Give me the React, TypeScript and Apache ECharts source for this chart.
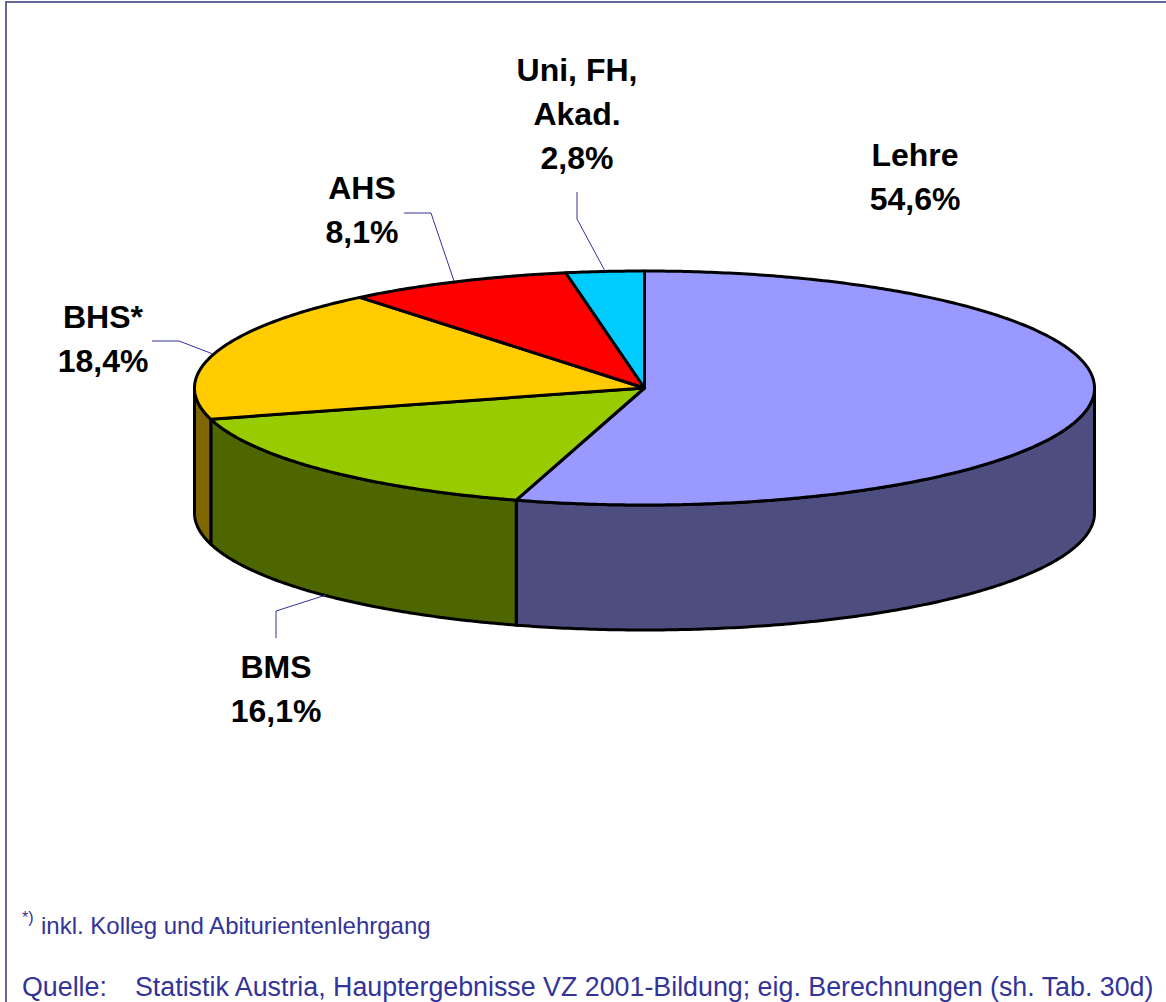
import React, { useEffect, useRef } from "react";
import * as echarts from "echarts";

const sliceNames = ["Lehre", "BMS", "BHS*", "AHS", "Uni, FH,\nAkad."];
const sliceValues = [54.6, 16.1, 18.4, 8.1, 2.8];
const topColors = ["#9999ff", "#99cc00", "#ffcc00", "#ff0000", "#00ccff"];
const wallColors = ["#4d4d80", "#4d6600", "#806600", "#800000", "#006680"];
const footnoteText = "inkl. Kolleg und Abiturientenlehrgang";
const sourceLabel = "Quelle:";
const sourceText = "Statistik Austria, Hauptergebnisse VZ 2001-Bildung; eig. Berechnungen (sh. Tab. 30d)";

const W = 1166;
const H = 1002;
const CX = 644.5;
const CY = 388;
const RX = 450;
const RY = 117;
const DEPTH = 125;
const INK = "#333399";
const FRAME = "#666699";

const total = sliceValues.reduce((a, b) => a + b, 0);
const starts: number[] = [];
sliceValues.reduce((acc, v, i) => {
  starts[i] = acc;
  return acc + v;
}, 0);
const toAngle = (cum: number) => (cum / total) * Math.PI * 2;

const ellipsePoint = (a: number, dy = 0): number[] => [
  CX + RX * Math.sin(a),
  CY - RY * Math.cos(a) + dy,
];

const arc = (a0: number, a1: number, dy = 0): number[][] => {
  const n = Math.max(2, Math.ceil(Math.abs(a1 - a0) / 0.01));
  const pts: number[][] = [];
  for (let i = 0; i <= n; i++) pts.push(ellipsePoint(a0 + ((a1 - a0) * i) / n, dy));
  return pts;
};

const renderTop = (params: any, api: any) => {
  const i = params.dataIndex;
  const a0 = toAngle(starts[i]);
  const a1 = a0 + toAngle(api.value(0));
  return {
    type: "polygon",
    shape: { points: [[CX, CY], ...arc(a0, a1)] },
    style: { fill: topColors[i], stroke: "#000", lineWidth: 3, lineJoin: "round" },
  };
};

const renderWall = (params: any, api: any) => {
  const i = params.dataIndex;
  const a0 = Math.max(toAngle(starts[i]), Math.PI / 2);
  const a1 = Math.min(toAngle(starts[i]) + toAngle(api.value(0)), (Math.PI * 3) / 2);
  if (a1 <= a0) return null;
  return {
    type: "polygon",
    shape: { points: [...arc(a0, a1), ...arc(a1, a0, DEPTH)] },
    style: { fill: wallColors[i], stroke: "#000", lineWidth: 3, lineJoin: "round" },
  };
};

const labelText = (name: string, value: number) =>
  `${name}\n${value.toFixed(1).replace(".", ",")}%`;

const label = (i: number, x: number, y: number) => ({
  type: "text",
  x,
  y,
  style: {
    text: labelText(sliceNames[i], sliceValues[i]),
    fill: "#000",
    fontSize: 32,
    fontWeight: "bold",
    fontFamily: '"Liberation Sans", Arial, sans-serif',
    lineHeight: 44,
    align: "center",
    verticalAlign: "top",
  },
});

const leader = (points: number[][]) => ({
  type: "polyline",
  shape: { points },
  style: { stroke: INK, lineWidth: 1, fill: "none" },
  z: 5,
});

const note = (text: string, x: number, y: number, size: number) => ({
  type: "text",
  x,
  y,
  style: {
    text,
    fill: INK,
    fontSize: size,
    fontFamily: '"Liberation Sans", Arial, sans-serif',
    align: "left",
    verticalAlign: "middle",
  },
});

export default function App() {
  const ref = useRef<HTMLDivElement>(null);
  useEffect(() => {
    document.body.style.margin = "0";
    const chart = echarts.init(ref.current!, null, { renderer: "svg" });
    chart.setOption({
      animation: false,
      backgroundColor: "#ffffff",
      series: [
        {
          type: "custom",
          coordinateSystem: "none",
          silent: true,
          z: 2,
          data: sliceValues.map((v) => [v]),
          renderItem: renderWall,
        },
        {
          type: "custom",
          coordinateSystem: "none",
          silent: true,
          z: 3,
          data: sliceValues.map((v) => [v]),
          renderItem: renderTop,
        },
      ],
      graphic: [
        {
          type: "line",
          shape: { x1: 6, y1: 2, x2: W, y2: 2 },
          style: { stroke: FRAME, lineWidth: 2 },
        },
        {
          type: "line",
          shape: { x1: 6, y1: 1, x2: 6, y2: H },
          style: { stroke: FRAME, lineWidth: 2 },
        },
        label(0, 915, 133),
        label(1, 276, 645),
        label(2, 103, 295),
        label(3, 362, 166),
        label(4, 577, 48),
        leader([[404, 213], [431, 213], [454, 281]]),
        leader([[577, 192], [577, 219], [605, 271]]),
        leader([[152, 341], [179, 341], [213, 354]]),
        leader([[276, 638], [276, 611], [326, 595]]),
        note("*)", 22, 917, 16),
        note(footnoteText, 41, 925, 24),
        note(sourceLabel, 22, 987, 26.8),
        note(sourceText, 135, 987, 26.8),
      ],
    });
    return () => chart.dispose();
  }, []);
  return <div ref={ref} style={{ width: W, height: H }} />;
}
